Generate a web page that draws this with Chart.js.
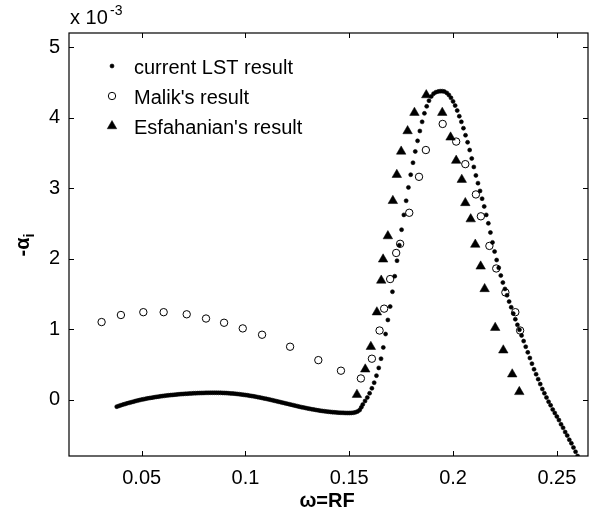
<!DOCTYPE html>
<html>
<head>
<meta charset="utf-8">
<script src="https://cdn.jsdelivr.net/npm/chart.js@4/dist/chart.umd.min.js"></script>
<style>
  body { margin: 0; background: #fff; }
  #wrap { width: 608px; height: 518px; }
</style>
</head>
<body>
<div id="wrap"><canvas id="alphaChart" width="608" height="518"></canvas></div>
<script>
// growth rate -alpha_i (x 1e-3) against omega = R*F
const xTicks = [0.05, 0.1, 0.15, 0.2, 0.25];
const yTicks = [0, 1, 2, 3, 4, 5];

const lstOmega = [
  0.038, 0.039, 0.040, 0.041, 0.042, 0.043, 0.044, 0.045, 0.046, 0.047,
  0.048, 0.049, 0.050, 0.051, 0.052, 0.053, 0.054, 0.055, 0.056, 0.057,
  0.058, 0.059, 0.060, 0.061, 0.062, 0.063, 0.064, 0.065, 0.066, 0.067,
  0.068, 0.069, 0.070, 0.071, 0.072, 0.073, 0.074, 0.075, 0.076, 0.077,
  0.078, 0.079, 0.080, 0.081, 0.082, 0.083, 0.084, 0.085, 0.086, 0.087,
  0.088, 0.089, 0.090, 0.091, 0.092, 0.093, 0.094, 0.095, 0.096, 0.097,
  0.098, 0.099, 0.100, 0.101, 0.102, 0.103, 0.104, 0.105, 0.106, 0.107,
  0.108, 0.109, 0.110, 0.111, 0.112, 0.113, 0.114, 0.115, 0.116, 0.117,
  0.118, 0.119, 0.120, 0.121, 0.122, 0.123, 0.124, 0.125, 0.126, 0.127,
  0.128, 0.129, 0.130, 0.131, 0.132, 0.133, 0.134, 0.135, 0.136, 0.137,
  0.138, 0.139, 0.140, 0.141, 0.142, 0.143, 0.144, 0.145, 0.146, 0.147,
  0.148, 0.149, 0.150, 0.151, 0.152, 0.153, 0.154, 0.155, 0.1558,
  0.1565, 0.1576, 0.1587, 0.1598, 0.1609, 0.1620, 0.1631, 0.1642, 0.1653, 0.1664,
  0.1675, 0.1686, 0.1697, 0.1708, 0.1719, 0.1730, 0.1741, 0.1752, 0.1763, 0.1774,
  0.1785, 0.1796, 0.1807, 0.1818, 0.1829, 0.1840, 0.1851, 0.1862, 0.1873, 0.1884,
  0.1895, 0.1906, 0.1917, 0.1928, 0.1938, 0.1948, 0.1958,
  0.197, 0.198, 0.199, 0.200, 0.201, 0.202, 0.203, 0.204, 0.205, 0.206,
  0.207, 0.208, 0.209, 0.210, 0.211, 0.212, 0.213, 0.214, 0.215, 0.216,
  0.217, 0.218, 0.219, 0.220, 0.221, 0.222, 0.223, 0.224, 0.225, 0.226,
  0.227, 0.228, 0.229, 0.230, 0.231, 0.232, 0.233, 0.234, 0.235, 0.236,
  0.237, 0.238, 0.239, 0.240, 0.241, 0.242, 0.243, 0.244, 0.245, 0.246,
  0.247, 0.248, 0.249, 0.250, 0.251, 0.252, 0.253, 0.254, 0.255, 0.256,
  0.257, 0.258, 0.259, 0.260
];
const lstAlpha = [
  -0.100, -0.090, -0.080, -0.071, -0.062, -0.053, -0.045, -0.037, -0.029, -0.021,
  -0.014, -0.007, 0.000, 0.006, 0.012, 0.018, 0.023, 0.028, 0.033, 0.038,
  0.042, 0.046, 0.050, 0.054, 0.058, 0.061, 0.064, 0.067, 0.070, 0.073,
  0.076, 0.078, 0.080, 0.082, 0.084, 0.086, 0.088, 0.090, 0.091, 0.092,
  0.093, 0.094, 0.095, 0.096, 0.096, 0.097, 0.097, 0.097, 0.097, 0.096,
  0.096, 0.095, 0.094, 0.092, 0.090, 0.088, 0.086, 0.083, 0.080, 0.077,
  0.073, 0.069, 0.065, 0.061, 0.056, 0.051, 0.046, 0.041, 0.035, 0.029,
  0.023, 0.017, 0.011, 0.004, -0.002, -0.009, -0.016, -0.023, -0.030, -0.037,
  -0.044, -0.051, -0.058, -0.065, -0.072, -0.079, -0.086, -0.093, -0.100, -0.107,
  -0.113, -0.119, -0.125, -0.131, -0.137, -0.142, -0.147, -0.152, -0.157, -0.161,
  -0.165, -0.169, -0.172, -0.175, -0.178, -0.181, -0.183, -0.185, -0.187, -0.188,
  -0.189, -0.190, -0.190, -0.189, -0.186, -0.180, -0.168, -0.148, -0.11,
  -0.07, -0.02, 0.03, 0.09, 0.16, 0.24, 0.34, 0.45, 0.58, 0.74,
  0.93, 1.13, 1.32, 1.53, 1.75, 1.97, 2.19, 2.41, 2.62, 2.82,
  3.01, 3.19, 3.36, 3.52, 3.67, 3.81, 3.94, 4.06, 4.16, 4.24,
  4.30, 4.34, 4.36, 4.37, 4.375, 4.375, 4.37,
  4.35, 4.32, 4.28, 4.23, 4.17, 4.10, 4.02, 3.94, 3.85, 3.75,
  3.65, 3.54, 3.42, 3.30, 3.18, 3.07, 2.96, 2.85, 2.74, 2.62,
  2.50, 2.37, 2.23, 2.10, 1.98, 1.87, 1.76, 1.66, 1.57, 1.48,
  1.39, 1.31, 1.22, 1.14, 1.06, 0.99, 0.91, 0.83, 0.75, 0.67,
  0.59, 0.51, 0.43, 0.36, 0.29, 0.22, 0.15, 0.09, 0.03, -0.03,
  -0.08, -0.14, -0.19, -0.24, -0.29, -0.35, -0.40, -0.46, -0.51, -0.57,
  -0.62, -0.68, -0.74, -0.80
];

const malikOmega = [
  0.0307, 0.0400, 0.0508, 0.0606, 0.0717, 0.0810, 0.0897, 0.0987, 0.1080, 0.1215,
  0.1351, 0.1460, 0.1556, 0.1609, 0.1646, 0.1668, 0.1697, 0.1726, 0.1745, 0.1789,
  0.1836, 0.1869, 0.1950, 0.2015, 0.2059, 0.2110, 0.2134, 0.2175, 0.2208, 0.2252,
  0.2300, 0.2323
];
const malikAlpha = [
  1.10, 1.20, 1.24, 1.24, 1.21, 1.15, 1.09, 1.01, 0.92, 0.75,
  0.56, 0.41, 0.30, 0.58, 0.98, 1.29, 1.71, 2.08, 2.21, 2.65,
  3.16, 3.54, 3.91, 3.66, 3.34, 2.91, 2.60, 2.18, 1.86, 1.52,
  1.24, 0.98
];

const esfOmega = [
  0.1537, 0.1577, 0.1604, 0.1633, 0.1654, 0.1663, 0.1686, 0.1710, 0.1729, 0.1750,
  0.1781, 0.1814, 0.1871, 0.1948, 0.1988, 0.2015, 0.2042, 0.2059, 0.2085, 0.2107,
  0.2133, 0.2152, 0.2203, 0.2242, 0.2285, 0.2319
];
const esfAlpha = [
  0.07, 0.43, 0.75, 1.24, 1.69, 1.99, 2.32, 2.82, 3.19, 3.52,
  3.81, 4.07, 4.32, 4.07, 3.72, 3.39, 3.12, 2.79, 2.56, 2.20,
  1.89, 1.57, 1.02, 0.70, 0.36, 0.11
];

const seriesNames = ['current LST result', "Malik's result", "Esfahanian's result"];

const FONT = '"Liberation Sans", Arial, Helvetica, sans-serif';

function toPoints(xs, ys) {
  return xs.map((x, i) => ({ x: x, y: ys[i] }));
}

// box, inward ticks on all four sides, titles, exponent and legend
const framePlugin = {
  id: 'frame',
  afterDraw(chart) {
    const ctx = chart.ctx;
    const a = chart.chartArea;
    const xs = chart.scales.x;
    const ys = chart.scales.y;
    ctx.save();
    ctx.strokeStyle = '#000';
    ctx.lineWidth = 1.2;
    ctx.strokeRect(a.left, a.top, a.right - a.left, a.bottom - a.top);
    ctx.lineWidth = 1;
    ctx.beginPath();
    xTicks.forEach(v => {
      const px = Math.round(xs.getPixelForValue(v)) + 0.5;
      ctx.moveTo(px, a.bottom); ctx.lineTo(px, a.bottom - 5);
      ctx.moveTo(px, a.top); ctx.lineTo(px, a.top + 5);
    });
    yTicks.forEach(v => {
      const py = Math.round(ys.getPixelForValue(v)) + 0.5;
      ctx.moveTo(a.left, py); ctx.lineTo(a.left + 5, py);
      ctx.moveTo(a.right, py); ctx.lineTo(a.right - 5, py);
    });
    ctx.stroke();

    ctx.fillStyle = '#000';
    // x axis title
    ctx.font = 'bold 20px ' + FONT;
    ctx.textAlign = 'center';
    ctx.textBaseline = 'middle';
    ctx.fillText('\u03c9=RF', 327, 501);

    // y axis title, rotated, with subscript
    ctx.save();
    ctx.translate(22, 245);
    ctx.rotate(-Math.PI / 2);
    ctx.textAlign = 'left';
    ctx.textBaseline = 'alphabetic';
    ctx.font = 'bold 20px ' + FONT;
    const main = '-\u03b1';
    const w1 = ctx.measureText(main).width;
    ctx.font = 'bold 14px ' + FONT;
    const w2 = ctx.measureText('i').width;
    const x0 = -(w1 + w2) / 2;
    ctx.font = 'bold 20px ' + FONT;
    ctx.fillText(main, x0, 7);
    ctx.font = 'bold 14px ' + FONT;
    ctx.fillText('i', x0 + w1, 12);
    ctx.restore();

    // exponent above the y axis
    ctx.textAlign = 'left';
    ctx.textBaseline = 'alphabetic';
    ctx.font = '20px ' + FONT;
    ctx.fillText('x 10', 70, 24);
    ctx.font = '14px ' + FONT;
    ctx.fillText('-3', 110, 15);

    // legend inside the axes
    const rows = [66, 96, 126];
    const mx = 112;
    ctx.font = '20px ' + FONT;
    ctx.textBaseline = 'middle';
    chart.data.datasets.forEach((ds, i) => {
      const y = rows[i];
      ctx.fillStyle = ds.backgroundColor;
      ctx.strokeStyle = ds.borderColor;
      ctx.lineWidth = ds.borderWidth;
      Chart.helpers.drawPoint(ctx, {
        pointStyle: ds.pointStyle,
        radius: ds.pointRadius,
        borderWidth: ds.borderWidth,
        rotation: 0
      }, mx, y);
      ctx.fillStyle = '#000';
      ctx.fillText(ds.label, 134, y + 2.5);
    });
    ctx.restore();
  }
};

new Chart(document.getElementById('alphaChart'), {
  type: 'scatter',
  data: {
    datasets: [
      {
        label: seriesNames[0],
        data: toPoints(lstOmega, lstAlpha),
        pointStyle: 'circle',
        pointRadius: 2,
        borderWidth: 0.6,
        backgroundColor: '#000',
        borderColor: '#000',
        order: 3
      },
      {
        label: seriesNames[1],
        data: toPoints(malikOmega, malikAlpha),
        pointStyle: 'circle',
        pointRadius: 3.7,
        borderWidth: 1,
        backgroundColor: 'rgba(0,0,0,0)',
        borderColor: '#000',
        order: 2
      },
      {
        label: seriesNames[2],
        data: toPoints(esfOmega, esfAlpha),
        pointStyle: 'triangle',
        pointRadius: 5.5,
        borderWidth: 0.5,
        backgroundColor: '#000',
        borderColor: '#000',
        order: 1
      }
    ]
  },
  options: {
    responsive: false,
    animation: false,
    devicePixelRatio: 1,
    layout: { padding: { top: 33, right: 20, left: 0, bottom: 0 } },
    plugins: {
      legend: { display: false },
      tooltip: { enabled: false }
    },
    scales: {
      x: {
        type: 'linear',
        min: 0.015,
        max: 0.265,
        grid: { display: false, drawTicks: false },
        border: { display: false },
        afterBuildTicks: s => { s.ticks = xTicks.map(v => ({ value: v })); },
        afterFit: s => { s.height = 62; },
        ticks: {
          padding: 10,
          color: '#000',
          font: { family: FONT, size: 20 },
          callback: v => String(v)
        }
      },
      y: {
        type: 'linear',
        min: -0.8,
        max: 5.2,
        grid: { display: false, drawTicks: false },
        border: { display: false },
        afterBuildTicks: s => { s.ticks = yTicks.map(v => ({ value: v })); },
        afterFit: s => { s.width = 69; },
        ticks: {
          padding: 9,
          color: '#000',
          font: { family: FONT, size: 20 },
          callback: v => String(v)
        }
      }
    }
  },
  plugins: [framePlugin]
});
</script>
</body>
</html>
